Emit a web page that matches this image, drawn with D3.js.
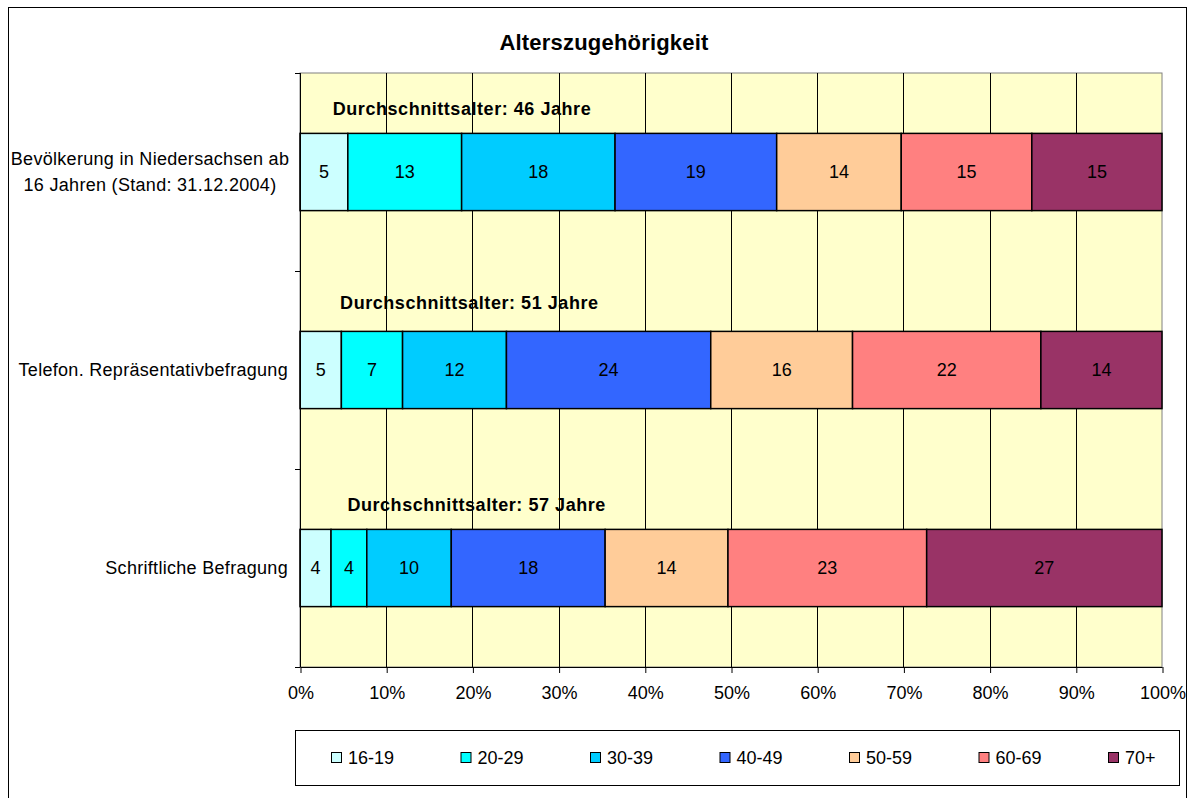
<!DOCTYPE html>
<html lang="de">
<head>
<meta charset="UTF-8">
<script src="https://cdnjs.cloudflare.com/ajax/libs/d3/7.8.5/d3.min.js"></script>
<style>
  body { margin: 0; background: #fff; }
  svg { display: block; font-family: "Liberation Sans", Arial, sans-serif; }
</style>
</head>
<body>
<div id="chart"></div>
<script>
// data
const title = 'Alterszugehörigkeit';
const categories = ['Bevölkerung in Niedersachsen ab\n16 Jahren (Stand: 31.12.2004)', 'Telefon. Repräsentativbefragung', 'Schriftliche Befragung'];
const ageGroups = ['16-19', '20-29', '30-39', '40-49', '50-59', '60-69', '70+'];
const colors = ['#CCFFFF', '#00FFFF', '#00CCFF', '#3366FF', '#FFCC99', '#FF8080', '#993366'];
// shares in percent
const sharesPopulation = [5.55, 13.2, 17.8, 18.75, 14.45, 15.15, 15.1];
const sharesPhone = [4.8, 7.1, 12.05, 23.7, 16.45, 21.85, 14.05];
const sharesWritten = [3.6, 4.15, 9.8, 17.85, 14.25, 23.05, 27.3];
// printed labels
const labelsPopulation = [5, 13, 18, 19, 14, 15, 15];
const labelsPhone = [5, 7, 12, 24, 16, 22, 14];
const labelsWritten = [4, 4, 10, 18, 14, 23, 27];
const averageAge = [46, 51, 57];
const xTicks = [0, 0.1, 0.2, 0.3, 0.4, 0.5, 0.6, 0.7, 0.8, 0.9, 1];

const shares = [sharesPopulation, sharesPhone, sharesWritten];
const labels = [labelsPopulation, labelsPhone, labelsWritten];

const width = 1194, height = 798;
const plot = { left: 300, right: 1162, top: 73, bottom: 667 };

const rows = categories.map((c, i) => {
    const o = { category: c };
    ageGroups.forEach((g, j) => o[g] = shares[i][j]);
    return o;
});
const series = d3.stack().keys(ageGroups).offset(d3.stackOffsetExpand)(rows);

const xScale = d3.scaleLinear().domain([0, 1]).range([plot.left, plot.right]);
const yScale = d3.scaleBand().domain(categories).range([plot.top, plot.bottom])
    .paddingInner(0.61).paddingOuter(0.305);

const svg = d3.select('#chart').append('svg')
    .attr('width', width)
    .attr('height', height);

// outer frame
svg.append('rect')
    .attr('x', 8.5).attr('y', 7.5)
    .attr('width', 1178).attr('height', 820)
    .style('fill', 'none').style('stroke', '#000');

// title
svg.append('text')
    .attr('x', 604).attr('y', 50)
    .attr('text-anchor', 'middle')
    .style('font-size', '22px').style('font-weight', 'bold')
    .style('letter-spacing', '0.2px')
    .text(title);

// plot background
svg.append('rect')
    .attr('x', plot.left).attr('y', plot.top)
    .attr('width', plot.right - plot.left).attr('height', plot.bottom - plot.top)
    .style('fill', '#FFFFCC').style('stroke', '#808080');

// grid
svg.append('g').selectAll('line')
    .data(xTicks.slice(1, -1))
    .enter().append('line')
    .attr('x1', d => Math.round(xScale(d)) + 0.5).attr('x2', d => Math.round(xScale(d)) + 0.5)
    .attr('y1', plot.top).attr('y2', plot.bottom)
    .style('stroke', '#000').style('stroke-width', 1);

// bars
const layer = svg.append('g').selectAll('g')
    .data(series)
    .enter().append('g')
    .style('fill', (s, i) => colors[i]);

layer.selectAll('rect')
    .data(s => s.map(d => d))
    .enter().append('rect')
    .attr('x', d => xScale(d[0]))
    .attr('y', d => yScale(d.data.category))
    .attr('width', d => xScale(d[1]) - xScale(d[0]))
    .attr('height', yScale.bandwidth())
    .style('stroke', '#000').style('stroke-width', 1.5);

// bar labels
series.forEach((s, j) => {
    svg.append('g').selectAll('text')
        .data(s)
        .enter().append('text')
        .attr('x', d => (xScale(d[0]) + xScale(d[1])) / 2)
        .attr('y', d => yScale(d.data.category) + yScale.bandwidth() / 2)
        .attr('dy', '0.35em')
        .attr('text-anchor', 'middle')
        .style('font-size', '18px')
        .text((d, i) => labels[i][j]);
});

// average age notes
svg.append('g').selectAll('text')
    .data(categories)
    .enter().append('text')
    .attr('x', (c, i) => xScale(0.038 + i * 0.0085))
    .attr('y', (c, i) => yScale(c) - 18 - (i === 1 ? 4 : 0))
    .style('font-size', '18px').style('font-weight', 'bold')
    .style('letter-spacing', '0.55px')
    .text((c, i) => `Durchschnittsalter: ${averageAge[i]} Jahre`);

// y axis
svg.append('line')
    .attr('x1', plot.left + 0.5).attr('x2', plot.left + 0.5)
    .attr('y1', plot.top).attr('y2', plot.bottom)
    .style('stroke', '#000');
const step = yScale.step();
svg.append('g').selectAll('line')
    .data(d3.range(categories.length + 1))
    .enter().append('line')
    .attr('x1', plot.left - 5).attr('x2', plot.left)
    .attr('y1', i => Math.round(plot.top + i * step) + 0.5)
    .attr('y2', i => Math.round(plot.top + i * step) + 0.5)
    .style('stroke', '#000');

// category labels
categories.forEach(c => {
    const lines = c.split('\n');
    const t = svg.append('text')
        .style('font-size', '18px')
        .style('letter-spacing', '0.3px')
        .attr('text-anchor', lines.length > 1 ? 'middle' : 'end');
    const lx = lines.length > 1 ? 150 : 288;
    const cy = yScale(c) + yScale.bandwidth() / 2;
    lines.forEach((l, k) => {
        t.append('tspan')
            .attr('x', lx)
            .attr('y', cy + (k - (lines.length - 1) / 2) * 26)
            .attr('dy', '0.35em')
            .text(l);
    });
});

// x axis
const xAxis = d3.axisBottom(xScale)
    .tickValues(xTicks)
    .tickFormat(d3.format('.0%'))
    .tickSize(6)
    .tickPadding(13);
const gx = svg.append('g')
    .attr('transform', `translate(0.5,${plot.bottom})`)
    .call(xAxis);
gx.select('.domain').attr('d', `M${plot.left},0.5H${plot.right}`).style('stroke', '#000');
gx.selectAll('.tick line').style('stroke', '#000');
gx.selectAll('.tick text')
    .style('font-size', '18px')
    .style('font-family', '"Liberation Sans", Arial, sans-serif')
    .style('fill', '#000');

// legend
const legend = svg.append('g');
legend.append('rect')
    .attr('x', 295.5).attr('y', 730.5)
    .attr('width', 884).attr('height', 55)
    .style('fill', '#fff').style('stroke', '#000');
const legendX = d3.scalePoint().domain(ageGroups).range([331, 1108]);
const item = legend.selectAll('g')
    .data(ageGroups)
    .enter().append('g')
    .attr('transform', g => `translate(${legendX(g)},758)`);
item.append('rect')
    .attr('x', 0.5).attr('y', -5.5)
    .attr('width', 10).attr('height', 10)
    .style('fill', (g, i) => colors[i])
    .style('stroke', '#000');
item.append('text')
    .attr('x', 17).attr('dy', '0.35em')
    .style('font-size', '18px')
    .text(g => g);
</script>
</body>
</html>
